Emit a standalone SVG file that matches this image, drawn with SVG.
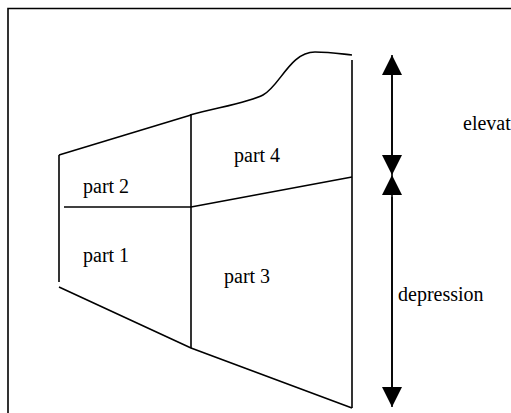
<svg xmlns="http://www.w3.org/2000/svg" width="511" height="413" viewBox="0 0 511 413">
  <style>
    .ln { fill: none; stroke: #000; stroke-width: 1.6; stroke-linecap: butt; stroke-linejoin: miter; }
    .lbl { font-family: "Liberation Serif", "Times New Roman", serif; font-size: 20px; fill: #000; }
  </style>
  <defs>
    <marker id="head" viewBox="0 0 20 20" refX="20" refY="10" markerWidth="20" markerHeight="20" markerUnits="userSpaceOnUse" orient="auto">
      <path d="M0,0 L20,10 L0,20 Z" fill="#000"/>
    </marker>
  </defs>
  <rect width="511" height="413" fill="#fff"/>

  <!-- page frame -->
  <path class="ln" d="M8,413 V8.5 H511"/>

  <!-- section outline -->
  <g id="outline">
    <path class="ln" d="M190,115 C220,107 250,102 263,95 C280,86 290,52 315,52 C330,52 342,54 352,55"/>
    <path class="ln" d="M352,60 V408"/>
    <path class="ln" d="M59,287 L191,348 L352,408"/>
    <path class="ln" d="M59,155 V282"/>
    <path class="ln" d="M59,155 L191,115"/>
  </g>

  <!-- part divisions -->
  <g id="dividers">
    <path class="ln" d="M191,115 V348"/>
    <path class="ln" d="M64,207 H191"/>
    <path class="ln" d="M191,207 L352,177"/>
  </g>

  <g id="part1"><text class="lbl" x="83" y="262">part 1</text></g>
  <g id="part2"><text class="lbl" x="83" y="193">part 2</text></g>
  <g id="part3"><text class="lbl" x="224" y="283">part 3</text></g>
  <g id="part4"><text class="lbl" x="234" y="162">part 4</text></g>

  <!-- dimension arrows -->
  <g id="connectors">
    <path class="ln" d="M392,155 V55" marker-end="url(#head)"/>
    <path class="ln" d="M392,75 V175" marker-end="url(#head)"/>
    <path class="ln" d="M392,387 V175" marker-end="url(#head)"/>
    <path class="ln" d="M392,197 V407" marker-end="url(#head)"/>
  </g>

  <g id="elevation"><text class="lbl" x="463" y="130">elevat</text></g>
  <g id="depression"><text class="lbl" x="398" y="301">depression</text></g>
</svg>
